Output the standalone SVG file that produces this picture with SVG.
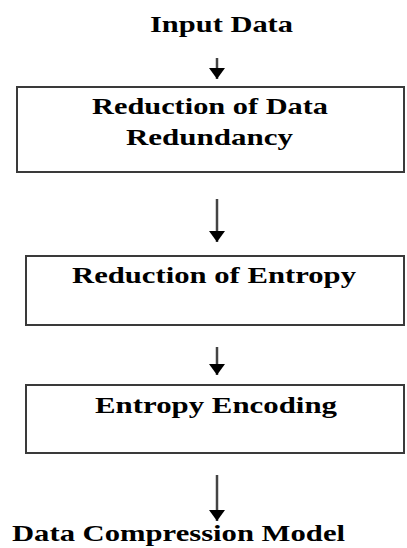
<svg xmlns="http://www.w3.org/2000/svg" width="407" height="548" viewBox="0 0 407 548">
  <style>
    .lbl { font-family: "Liberation Serif", "Times New Roman", serif; font-weight: bold; font-size: 23px; fill: #000; }
    .box { fill: #fff; stroke: #3a3a3a; stroke-width: 2; }
    .flow { stroke: #444; stroke-width: 2.5; fill: none; marker-end: url(#head); }
  </style>
  <defs>
    <marker id="head" markerUnits="userSpaceOnUse" markerWidth="11" markerHeight="16" refX="11" refY="8" orient="auto">
      <path d="M0,0 L11,8 L0,16 z" fill="#000"/>
    </marker>
  </defs>
  <rect width="407" height="548" fill="#fff"/>

  <g id="input">
    <text class="lbl" x="150" y="32" textLength="143" lengthAdjust="spacingAndGlyphs">Input Data</text>
  </g>

  <g id="redundancy">
    <rect class="box" x="17" y="87" width="387" height="85"/>
    <text class="lbl" x="92" y="114" textLength="236" lengthAdjust="spacingAndGlyphs">Reduction of Data</text>
    <text class="lbl" x="126" y="145" textLength="167" lengthAdjust="spacingAndGlyphs">Redundancy</text>
  </g>

  <g id="entropy">
    <rect class="box" x="26" y="256" width="378" height="69"/>
    <text class="lbl" x="72" y="283" textLength="284" lengthAdjust="spacingAndGlyphs">Reduction of Entropy</text>
  </g>

  <g id="encoding">
    <rect class="box" x="26" y="385" width="378" height="68"/>
    <text class="lbl" x="95" y="413" textLength="242" lengthAdjust="spacingAndGlyphs">Entropy Encoding</text>
  </g>

  <g id="output">
    <text class="lbl" x="12" y="541" textLength="333" lengthAdjust="spacingAndGlyphs">Data Compression Model</text>
  </g>

  <g id="connectors">
    <line class="flow" x1="217" y1="58" x2="217" y2="79"/>
    <line class="flow" x1="217" y1="199" x2="217" y2="242"/>
    <line class="flow" x1="217" y1="347" x2="217" y2="375"/>
    <line class="flow" x1="217" y1="475" x2="217" y2="521"/>
  </g>
</svg>
